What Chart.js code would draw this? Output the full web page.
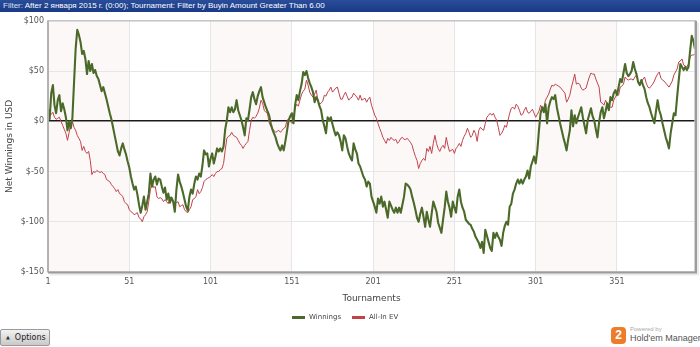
<!DOCTYPE html>
<html>
<head>
<meta charset="utf-8">
<script src="https://cdn.jsdelivr.net/npm/chart.js@4/dist/chart.umd.min.js"></script>
<style>
  html, body { margin: 0; padding: 0; background: #fff; }
  body { width: 700px; height: 347px; position: relative; overflow: hidden; font-family: "Liberation Sans", Arial, sans-serif; }
  #filterBar {
    position: absolute; left: 0; top: 0; width: 700px; height: 12px;
    background: linear-gradient(#2a4d9b, #193a86);
    color: #fff; font-size: 8px; line-height: 12px; padding-left: 3px; box-sizing: border-box;
    white-space: nowrap;
  }
  #filterBar .lbl { color: #d8e0f0; }
  #chartBox { position: absolute; left: 0; top: 12px; width: 700px; height: 300px; }
  #legend {
    position: absolute; top: 311px; left: 292px; height: 12px;
    font-family: "DejaVu Sans", Verdana, sans-serif; font-size: 7px; color: #444;
    display: flex; align-items: center; white-space: nowrap;
  }
  #legend .item { display: flex; align-items: center; margin-right: 11px; }
  #legend .swatch { width: 13px; height: 3px; margin-right: 4px; }
  #optionsBtn {
    position: absolute; left: 0; top: 329px; width: 50px; height: 17px; box-sizing: border-box;
    border: 1px solid #9a9a9a; border-radius: 2px;
    background: linear-gradient(#f2f2f2, #c9c9c9);
    font-family: "DejaVu Sans", Verdana, sans-serif; font-size: 8px; color: #222;
    line-height: 15px; padding-left: 5px; white-space: nowrap;
  }
  #optionsBtn .tri { font-size: 5px; vertical-align: 1px; margin-right: 5px; color: #333; }
  #logo { position: absolute; left: 611px; top: 326px; width: 89px; height: 20px; }
  #logo .badge {
    position: absolute; left: 0; top: 1px; width: 15px; height: 17px;
    background: #ee7d2b; border-radius: 4px; color: #fff; font-weight: bold;
    font-size: 12px; line-height: 17px; text-align: center; font-family: "Liberation Sans", Arial, sans-serif;
  }
  #logo .small { position: absolute; left: 19px; top: 0px; font-size: 6px; color: #aaa; font-family: "Liberation Sans", Arial, sans-serif; }
  #logo .name { position: absolute; left: 19px; top: 7px; font-size: 9px; color: #555; font-family: "Liberation Sans", Arial, sans-serif; white-space: nowrap; }
</style>
</head>
<body>
<div id="filterBar"><span class="lbl">Filter:</span> After 2 января 2015 г. (0:00); Tournament: Filter by Buyin Amount Greater Than 6.00</div>
<div id="chartBox"><canvas id="chart" width="700" height="300"></canvas></div>
<div id="legend"></div>
<div id="optionsBtn"><span class="tri">&#9650;</span>Options</div>
<div id="logo"><div class="badge">2</div><div class="small">Powered by</div><div class="name">Hold'em Manager</div></div>

<script>
// Cumulative net winnings per tournament, in USD
const winnings = [
  12, 2, 28, 36, 16, 8, 21, 26, 10, 18, 12, 4, -9, 0, -7, 3, 38, 72, 91, 86,
  79, 67, 70, 62, 47, 60, 50, 57, 48, 51, 45, 42, 36, 30, 34, 28, 22, 15, 8, 2,
  -6, -14, -22, -30, -34, -27, -22, -28, -33, -40, -46, -55, -62, -68, -65, -73, -83, -91, -84, -75,
  -88, -80, -72, -52, -65, -58, -55, -63, -57, -58, -65, -71, -66, -78, -72, -81, -76, -80, -90, -68,
  -53, -60, -65, -71, -78, -85, -89, -75, -68, -72, -62, -55, -58, -52, -55, -44, -29, -33, -32, -45,
  -37, -32, -42, -35, -27, -30, -27, -30, -25, -8, 1, 14, 9, 14, 9, 12, 21, 11, 6, 1,
  -6, -14, 3, 1, 12, 24, 29, 22, 17, 25, 30, 34, 24, 19, 14, 10, 6, -2, -8, -12,
  -16, -22, -26, -29, -24, -29, -20, -10, 1, 5, 8, -2, 16, 26, 21, 30, 37, 49, 46, 50,
  43, 38, 34, 29, 19, 24, 21, 15, 11, 1, -5, -12, 4, 1, 4, -3, -9, -14, -11, -14,
  -20, -29, -14, -17, -25, -32, -36, -39, -22, -28, -32, -42, -45, -50, -55, -58, -65, -60, -62, -75,
  -80, -85, -91, -77, -82, -75, -85, -80, -88, -96, -80, -84, -88, -91, -86, -91, -86, -91, -83, -75,
  -62, -63, -65, -68, -75, -81, -88, -96, -100, -92, -86, -95, -105, -90, -98, -105, -92, -80, -85, -90,
  -101, -106, -111, -98, -86, -70, -80, -86, -95, -80, -86, -91, -75, -68, -80, -86, -90, -98, -100, -102,
  -103, -107, -110, -115, -118, -121, -126, -120, -131, -108, -114, -120, -126, -129, -111, -116, -111, -115, -118, -124,
  -111, -104, -100, -103, -85, -82, -72, -68, -62, -58, -62, -58, -62, -58, -55, -49, -57, -45, -40, -35,
  -42, -29, -9, 8, 14, 9, 17, -2, 14, 20, 24, 22, 26, 14, 6, -2, -9, -16, -22, -29,
  -18, -9, 11, -5, 6, -2, 4, 9, 14, 4, -4, -12, 1, 7, 13, 5, 1, -8, -16, -1,
  9, 14, 3, 10, 18, 11, 24, 21, 28, 31, 26, 34, 42, 39, 48, 57, 48, 45, 47, 50,
  59, 52, 47, 39, 36, 41, 36, 32, 24, 18, 14, 8, 3, -2, 10, 21, 11, 6, -2, -9,
  -16, -21, -27, -12, -2, 8, 6, 24, 41, 57, 54, 51, 54, 51, 54, 70, 85, 80, 72
];

// Cumulative all-in expected value per tournament, in USD
const allInEV = [
  1, 5, 7, 9, 4, 2, 3, 4, 0, -4, -8, -12, -19, -11, -2, 0, -6, -9, -14, -17,
  -20, -29, -25, -30, -32, -30, -39, -53, -50, -51, -49, -50, -51, -50, -52, -53, -58, -59, -60, -63,
  -65, -67, -70, -68, -72, -73, -75, -80, -82, -83, -88, -90, -91, -93, -92, -91, -96, -97, -100, -95,
  -93, -90, -80, -68, -62, -66, -65, -75, -77, -76, -77, -80, -78, -80, -82, -75, -78, -80, -82, -81,
  -80, -85, -84, -83, -88, -90, -91, -88, -85, -78, -77, -75, -68, -72, -70, -66, -60, -58, -57, -56,
  -55, -53, -55, -52, -50, -50, -48, -47, -42, -29, -17, -15, -14, -11, -14, -15, -16, -19, -22, -24,
  -27, -24, -22, -20, -9, 1, 4, 3, 5, 8, 13, 21, 18, 11, 9, 8, -1, -5, -7, -9,
  -11, -10, -9, -11, -9, -7, -6, 1, 2, 0, -2, 4, 13, 17, 15, 21, 27, 30, 32, 41,
  36, 29, 26, 24, 27, 31, 21, 17, 18, 20, 26, 25, 29, 31, 34, 29, 31, 33, 34, 28,
  22, 22, 26, 29, 25, 21, 23, 24, 28, 26, 24, 21, 26, 21, 22, 23, 19, 22, 24, 16,
  11, 6, 3, -2, -7, -11, -16, -19, -22, -17, -19, -16, -18, -19, -18, -22, -20, -17, -16, -18,
  -18, -17, -19, -21, -24, -30, -35, -39, -47, -42, -39, -37, -39, -27, -30, -25, -32, -22, -14, -22,
  -27, -30, -26, -24, -27, -16, -24, -30, -29, -28, -32, -27, -25, -22, -25, -19, -15, -12, -7, -11,
  -16, -14, -9, -12, -20, -9, -6, -8, -9, -2, 4, 6, 8, 6, 8, 4, 1, -6, -14, -12,
  -9, -4, -6, 1, 8, 13, 14, 12, 17, 15, 11, 6, 7, 11, 14, 9, 8, 10, 12, 8,
  4, 7, 10, 16, 14, 13, 21, 24, 27, 32, 36, 35, 37, 36, 35, 34, 32, 30, 28, 19,
  22, 26, 34, 40, 47, 37, 38, 37, 33, 31, 32, 33, 39, 44, 48, 47, 47, 42, 38, 34,
  19, 18, 16, 21, 17, 13, 14, 14, 21, 24, 27, 26, 34, 35, 37, 44, 42, 41, 42, 42,
  41, 44, 46, 40, 37, 38, 42, 44, 38, 34, 33, 35, 37, 40, 44, 47, 49, 43, 41, 40,
  38, 36, 34, 37, 40, 46, 49, 52, 59, 60, 62, 56, 55, 54, 57, 64, 66, 66, 67
];

// Tournament numbers (1-based) for the x axis
const tournaments = winnings.map((_, i) => i + 1);

// Labelled ticks
const tournamentTicks = [1, 51, 101, 151, 201, 251, 301, 351];
const usdTicks = [100, 50, 0, -50, -100, -150];

// Alternating shaded tournament blocks
const shadedBlocks = [[1, 51], [101, 151], [201, 251], [301, 351]];

const seriesNames = ['Winnings', 'All-In EV'];
const seriesColors = ['#4b6a2a', '#c0434a'];

const axisFont = { family: 'DejaVu Sans, Verdana, sans-serif', size: 8 };
const titleFont = { family: 'DejaVu Sans, Verdana, sans-serif', size: 9 };

const plotDecor = {
  id: 'plotDecor',
  beforeDraw(chart) {
    const { ctx, chartArea: a, scales: { x } } = chart;
    ctx.save();
    ctx.fillStyle = 'rgba(236, 180, 180, 0.09)';
    shadedBlocks.forEach(([from, to]) => {
      const x0 = x.getPixelForValue(from);
      const x1 = x.getPixelForValue(to);
      ctx.fillRect(x0, a.top, x1 - x0, a.bottom - a.top);
    });
    ctx.restore();
  },
  afterDraw(chart) {
    const { ctx, chartArea: a } = chart;
    ctx.save();
    ctx.strokeStyle = '#c4c4c4';
    ctx.lineWidth = 1.5;
    ctx.strokeRect(a.left, a.top, a.right - a.left, a.bottom - a.top);
    ctx.strokeStyle = '#9c9c9c';
    ctx.lineWidth = 2;
    ctx.beginPath();
    ctx.moveTo(a.left, a.bottom + 0.5);
    ctx.lineTo(a.right + 1, a.bottom + 0.5);
    ctx.lineTo(a.right + 1, a.top);
    ctx.stroke();
    ctx.strokeStyle = 'rgba(0,0,0,0.08)';
    ctx.lineWidth = 2;
    ctx.beginPath();
    ctx.moveTo(a.left + 2, a.bottom + 2.5);
    ctx.lineTo(a.right + 3, a.bottom + 2.5);
    ctx.lineTo(a.right + 3, a.top + 2);
    ctx.stroke();
    ctx.strokeStyle = '#a8a8a8';
    ctx.lineWidth = 1.5;
    ctx.beginPath();
    ctx.moveTo(a.left, a.top);
    ctx.lineTo(a.left, a.bottom);
    ctx.stroke();
    ctx.restore();
  }
};

new Chart(document.getElementById('chart'), {
  type: 'line',
  data: {
    labels: tournaments,
    datasets: [
      { label: seriesNames[0], data: winnings, borderColor: seriesColors[0], borderWidth: 2.1 },
      { label: seriesNames[1], data: allInEV, borderColor: seriesColors[1], borderWidth: 1 }
    ]
  },
  options: {
    responsive: false,
    animation: false,
    layout: { padding: { top: 8, right: 5, bottom: 0, left: 0 } },
    elements: { point: { radius: 0 }, line: { tension: 0, borderJoinStyle: 'round' } },
    plugins: { legend: { display: false }, tooltip: { enabled: false } },
    scales: {
      x: {
        type: 'linear',
        min: tournaments[0],
        max: tournaments[tournaments.length - 1],
        afterBuildTicks: (s) => { s.ticks = tournamentTicks.map(v => ({ value: v })); },
        afterFit: (s) => { s.height = 40; },
        border: { display: false },
        grid: {
          drawTicks: false,
          color: (c) => (c.tick && c.tick.value === tournaments[0]) ? 'rgba(0,0,0,0)' : '#e6e6e6',
          lineWidth: 1
        },
        ticks: { padding: 5, color: '#555', font: axisFont, maxRotation: 0, autoSkip: false },
        title: { display: true, text: 'Tournaments', color: '#444', font: titleFont, padding: { top: 8, bottom: 8 } }
      },
      y: {
        min: usdTicks[usdTicks.length - 1],
        max: usdTicks[0],
        afterBuildTicks: (s) => { s.ticks = usdTicks.slice().reverse().map(v => ({ value: v })); },
        afterFit: (s) => { s.width = 48; },
        border: { display: false },
        grid: {
          drawTicks: false,
          color: (c) => {
            if (!c.tick) return '#e6e6e6';
            if (c.tick.value === 0) return '#1a1a1a';
            if (c.tick.value === usdTicks[0] || c.tick.value === usdTicks[usdTicks.length - 1]) return 'rgba(0,0,0,0)';
            return '#e6e6e6';
          },
          lineWidth: (c) => (c.tick && c.tick.value === 0) ? 1.6 : 1
        },
        ticks: { padding: 4, color: '#555', font: axisFont, callback: (v) => '$' + v },
        title: { display: true, text: 'Net Winnings in USD', color: '#444', font: titleFont, padding: { top: 4, bottom: 4 } }
      }
    }
  },
  plugins: [plotDecor]
});

// Legend built from the series definitions
const legend = document.getElementById('legend');
seriesNames.forEach((name, i) => {
  const item = document.createElement('div');
  item.className = 'item';
  const sw = document.createElement('div');
  sw.className = 'swatch';
  sw.style.background = seriesColors[i];
  const label = document.createElement('span');
  label.textContent = name;
  item.appendChild(sw);
  item.appendChild(label);
  legend.appendChild(item);
});
</script>
</body>
</html>
